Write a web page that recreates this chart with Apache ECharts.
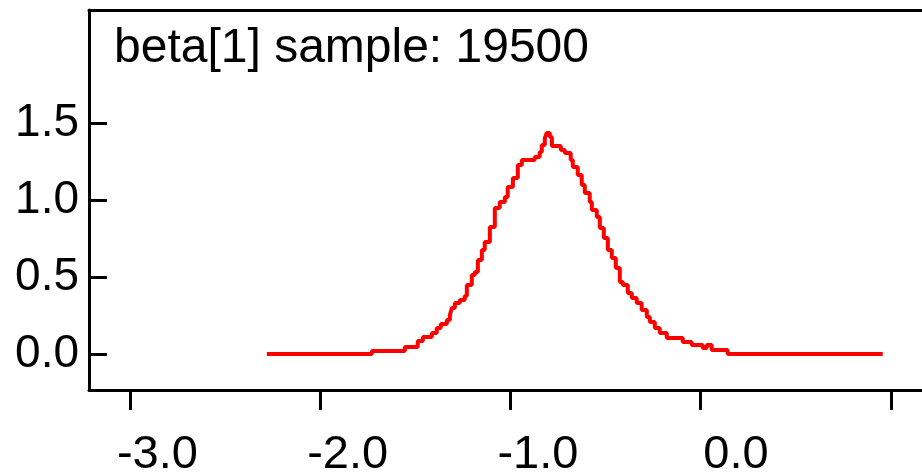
<!DOCTYPE html>
<html>
<head>
<meta charset="utf-8">
<script src="https://cdn.jsdelivr.net/npm/echarts@6/dist/echarts.min.js"></script>
<style>
  html, body {margin: 0; padding: 0; background: #fff; overflow: hidden;}
  #chart {width: 1000px; height: 475px;}
</style>
</head>
<body>
<div id="chart"></div>
<script>
const titleText = 'beta[1] sample: 19500'

// density steps: x where each step starts, and its height
const xValues = [
  -2.280, -1.728, -1.555, -1.487, -1.460, -1.413, -1.387, -1.366, -1.334, -1.318,
  -1.308, -1.292, -1.266, -1.240, -1.229, -1.203, -1.187, -1.171, -1.150, -1.135,
  -1.108, -1.082, -1.056, -1.029, -1.014, -0.987, -0.961, -0.940, -0.872, -0.846,
  -0.835, -0.819, -0.809, -0.793, -0.782, -0.735, -0.714, -0.683, -0.672, -0.646,
  -0.625, -0.609, -0.583, -0.572, -0.546, -0.530, -0.509, -0.488, -0.467, -0.446,
  -0.425, -0.409, -0.383, -0.362, -0.336, -0.310, -0.283, -0.267, -0.241, -0.215,
  -0.178, -0.094, -0.047, 0.011, 0.032, 0.058, 0.142, 0.957,
]
const densityValues = [
  0.000, 0.020, 0.045, 0.085, 0.111, 0.137, 0.169, 0.195, 0.221, 0.254,
  0.299, 0.332, 0.351, 0.377, 0.449, 0.514, 0.533, 0.611, 0.676, 0.728,
  0.826, 0.949, 0.988, 1.021, 1.086, 1.144, 1.229, 1.261, 1.281, 1.313,
  1.359, 1.404, 1.437, 1.411, 1.352, 1.326, 1.307, 1.261, 1.216, 1.164,
  1.099, 1.047, 0.988, 0.936, 0.891, 0.819, 0.754, 0.676, 0.624, 0.559,
  0.468, 0.449, 0.397, 0.364, 0.332, 0.286, 0.241, 0.208, 0.169, 0.137,
  0.104, 0.078, 0.059, 0.039, 0.059, 0.026, 0.000, 0.000,
]

const xTickValues = [-3, -2, -1, 0, 1]
const xLabelValues = [-3, -2, -1, 0]
const yTickValues = [0, 0.5, 1, 1.5]

const fontFamily = 'Liberation Sans, Arial, sans-serif'
const black = '#000'
const lineColor = '#ff0000'
const xMin = -3.215
const xMax = 1.4

// chart is wider than the window so the plot frame runs off the right edge
const chart = echarts.init(document.getElementById('chart'), null, {renderer: 'canvas'})

const option = {
  animation: false,
  backgroundColor: '#fff',
  title: {
    text: titleText,
    left: 114,
    top: 25,
    padding: 0,
    textStyle: {
      fontFamily,
      fontSize: 48,
      fontWeight: 'normal',
      color: black,
    },
  },
  grid: {
    left: 89,
    top: 10,
    bottom: 85,
    width: 878,
    show: false,
    containLabel: false,
    outerBoundsMode: 'none',
  },
  xAxis: [{
    type: 'value',
    position: 'bottom',
    min: xMin,
    max: xMax,
    splitLine: {show: false},
    axisLine: {show: true, onZero: false, lineStyle: {color: black, width: 3}},
    axisTick: {
      show: true,
      inside: false,
      length: 20,
      customValues: xTickValues,
      lineStyle: {color: black, width: 3},
    },
    axisLabel: {
      customValues: xLabelValues,
      margin: 42,
      align: 'center',
      formatter: v => `{r|${v.toFixed(1)}}`,
      rich: {
        r: {
          width: 136,
          align: 'right',
          fontFamily,
          fontSize: 47,
          color: black,
        },
      },
    },
  }, {
    // top frame line only
    type: 'value',
    position: 'top',
    min: xMin,
    max: xMax,
    splitLine: {show: false},
    axisLine: {show: true, onZero: false, lineStyle: {color: black, width: 3}},
    axisTick: {show: false},
    axisLabel: {show: false},
  }],
  yAxis: {
    type: 'value',
    min: -0.234,
    max: 2.237,
    splitLine: {show: false},
    axisLine: {show: true, onZero: false, lineStyle: {color: black, width: 3}},
    axisTick: {
      show: true,
      inside: true,
      length: 18,
      customValues: yTickValues,
      lineStyle: {color: black, width: 3},
    },
    axisLabel: {
      customValues: yTickValues,
      margin: 10,
      fontFamily,
      fontSize: 46,
      color: black,
      formatter: v => v.toFixed(1),
    },
  },
  series: [{
    type: 'line',
    step: 'end',
    showSymbol: false,
    data: xValues.map((x, i) => [x, densityValues[i]]),
    lineStyle: {color: lineColor, width: 4},
  }],
}

chart.setOption(option)
</script>
</body>
</html>
